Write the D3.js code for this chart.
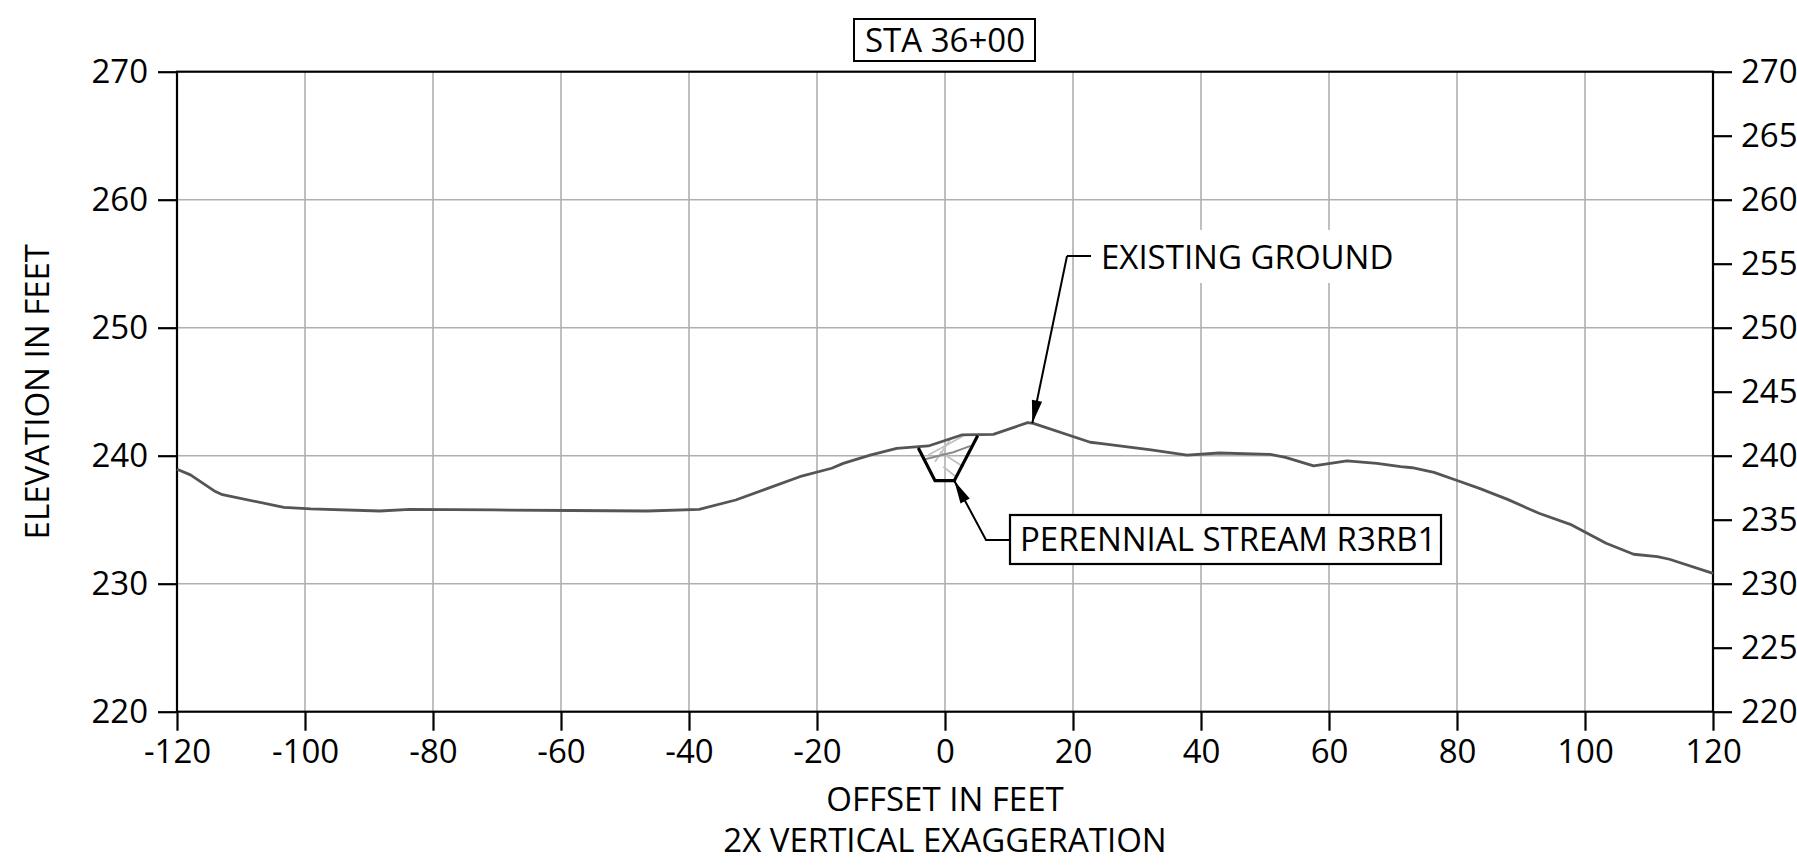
<!DOCTYPE html>
<html><head><meta charset="utf-8">
<script src="https://cdn.jsdelivr.net/npm/d3@7"></script>
<style>
html,body{margin:0;padding:0;background:#fff;}
text{font-family:"Open Sans","Noto Sans",sans-serif;fill:#000;}
</style></head>
<body>
<svg id="chart" width="1797" height="868"></svg>
<script>
// ---- data ----
const title = "STA 36+00";
const xTicks = [-120,-100,-80,-60,-40,-20,0,20,40,60,80,100,120];
const yTicksLeft = [220,230,240,250,260,270];
const yTicksRight = [220,225,230,235,240,245,250,255,260,265,270];
const groundX = [-120,-117.9,-114.0,-112.9,-103.3,-99.1,-88.3,-83.6,-70.4,-58.4,-46.5,-38.4,-32.7,-27.7,-22.7,-17.7,-15.9,-11.7,-7.55,-2.6,2.6,7.55,12.9,13.8,22.7,24.2,32.2,37.8,42.8,50.8,53.2,57.6,62.8,67.5,71.2,73.0,76.4,79.8,83.5,87.9,92.8,97.7,103.3,107.6,111.3,113.2,120];
const groundY = [238.94,238.5,237.2,236.95,235.97,235.84,235.68,235.81,235.76,235.72,235.68,235.81,236.54,237.45,238.36,239.02,239.4,240.05,240.58,240.76,241.62,241.67,242.58,242.53,241.05,240.97,240.45,240.05,240.21,240.11,239.87,239.2,239.59,239.4,239.14,239.06,238.7,238.1,237.45,236.59,235.5,234.64,233.16,232.3,232.11,231.91,230.81];
const channelX = [-4.17,-1.56,1.45,5.1];
const channelY = [240.6,238.05,238.05,241.55];
const waterX = [-3.13,1.30,4.01];
const waterY = [239.72,240.27,240.76];
const hatchX1 = [-2.60,-0.78,-0.26,-1.56];
const hatchY1 = [240.05,240.31,239.14,239.53];
const hatchX2 = [2.86,2.86,1.56,0.78];
const hatchY2 = [241.54,239.14,238.41,241.23];
const labelGround = "EXISTING GROUND";
const labelStream = "PERENNIAL STREAM R3RB1";
const xTitle = "OFFSET IN FEET";
const xSubTitle = "2X VERTICAL EXAGGERATION";
const yTitle = "ELEVATION IN FEET";
const groundTip = [13.8,242.53];
const streamTip = [1.45,238.05];

// ---- layout ----
const svg = d3.select("#chart");
const L=177, R=1713, T=71.7, B=711.7;
const x = d3.scaleLinear().domain([-120,120]).range([L,R]);
const y = d3.scaleLinear().domain([220,270]).range([B,T]);
const FS = 33;
const grid = "#b0b0b0";
const fmt = d => String(d);

// gridlines
svg.append("g").selectAll("line").data(xTicks.filter(d=>d>-120&&d<120)).join("line")
  .attr("x1",d=>x(d)).attr("x2",d=>x(d)).attr("y1",T).attr("y2",B)
  .attr("stroke",grid).attr("stroke-width",1.6);
svg.append("g").selectAll("line").data(yTicksLeft.filter(d=>d>220&&d<270)).join("line")
  .attr("y1",d=>y(d)).attr("y2",d=>y(d)).attr("x1",L).attr("x2",R)
  .attr("stroke",grid).attr("stroke-width",1.6);

// axes
function styleAxis(g){
  g.select(".domain").remove();
  g.selectAll(".tick line").attr("stroke","#000").attr("stroke-width",2.2);
  g.selectAll(".tick text").attr("font-size",FS).attr("font-family","Open Sans").attr("fill","#000");
}
svg.append("g").attr("transform",`translate(0,${B})`)
  .call(d3.axisBottom(x).tickValues(xTicks).tickSize(19).tickPadding(9).tickFormat(fmt))
  .call(styleAxis);
svg.append("g").attr("transform",`translate(${L},0)`)
  .call(d3.axisLeft(y).tickValues(yTicksLeft).tickSize(19).tickPadding(10).tickFormat(fmt))
  .call(styleAxis);
svg.append("g").attr("transform",`translate(${R},0)`)
  .call(d3.axisRight(y).tickValues(yTicksRight).tickSize(19).tickPadding(9).tickFormat(fmt))
  .call(styleAxis);

// frame
svg.append("rect").attr("x",L).attr("y",T).attr("width",R-L).attr("height",B-T)
  .attr("fill","none").attr("stroke","#000").attr("stroke-width",2.2);

// channel hatch
const hatch = svg.append("g");
hatchX1.forEach((d,i)=>{
  hatch.append("line").attr("x1",x(d)).attr("y1",y(hatchY1[i]))
    .attr("x2",x(hatchX2[i])).attr("y2",y(hatchY2[i]))
    .attr("stroke","#c0c0c0").attr("stroke-width",1.8);
});
const line = d3.line().x(d=>x(d[0])).y(d=>y(d[1]));
svg.append("path").attr("d",line(waterX.map((d,i)=>[d,waterY[i]])))
  .attr("fill","none").attr("stroke","#8a8a8a").attr("stroke-width",1.9);

// ground
svg.append("path").attr("d",line(groundX.map((d,i)=>[d,groundY[i]])))
  .attr("fill","none").attr("stroke","#555").attr("stroke-width",2.8).attr("stroke-linejoin","round");

// channel
svg.append("path").attr("d",line(channelX.map((d,i)=>[d,channelY[i]])))
  .attr("fill","none").attr("stroke","#000").attr("stroke-width",3.2).attr("stroke-linejoin","miter");

// arrow helper
function arrow(pts){
  const g = svg.append("g");
  g.append("path").attr("d",d3.line()(pts)).attr("fill","none").attr("stroke","#000").attr("stroke-width",2);
  const [tx,ty] = pts[pts.length-1], [fx,fy] = pts[pts.length-2];
  const a = Math.atan2(ty-fy,tx-fx), len=23, hw=5.2;
  const bx = tx-len*Math.cos(a), by = ty-len*Math.sin(a);
  const px=-Math.sin(a)*hw, py=Math.cos(a)*hw;
  g.append("path").attr("d",`M${tx},${ty}L${bx+px},${by+py}L${bx-px},${by-py}Z`).attr("fill","#000");
}

// existing ground label
const eg = svg.append("g");
const egBg = eg.append("rect").attr("fill","#fff");
const egText = eg.append("text").attr("x",1101).attr("y",269).attr("font-size",FS).text(labelGround);
const eb = egText.node().getBBox();
egBg.attr("x",eb.x-6).attr("y",eb.y-4).attr("width",eb.width+12).attr("height",eb.height+8);
svg.append("line").attr("x1",1067).attr("x2",1091).attr("y1",256).attr("y2",256).attr("stroke","#000").attr("stroke-width",2);
arrow([[1067,256],[x(groundTip[0])-1,y(groundTip[1])]]);

// stream label
svg.append("rect").attr("x",1010).attr("y",515).attr("width",431).attr("height",49)
  .attr("fill","#fff").attr("stroke","#000").attr("stroke-width",2.2);
svg.append("text").attr("x",1020).attr("y",551).attr("font-size",FS).text(labelStream);
arrow([[1010,540],[986,540],[x(streamTip[0]),y(streamTip[1])]]);

// title
svg.append("rect").attr("x",854).attr("y",19).attr("width",181).attr("height",42)
  .attr("fill","#fff").attr("stroke","#000").attr("stroke-width",2);
svg.append("text").attr("x",945).attr("y",52).attr("text-anchor","middle").attr("font-size",FS).text(title);

// axis titles
svg.append("text").attr("x",945).attr("y",811).attr("text-anchor","middle").attr("font-size",FS).text(xTitle);
svg.append("text").attr("x",945).attr("y",852).attr("text-anchor","middle").attr("font-size",FS).text(xSubTitle);
svg.append("text").attr("transform",`translate(49,${(T+B)/2}) rotate(-90)`).attr("text-anchor","middle")
  .attr("font-size",FS).text(yTitle);
</script>
</body></html>
